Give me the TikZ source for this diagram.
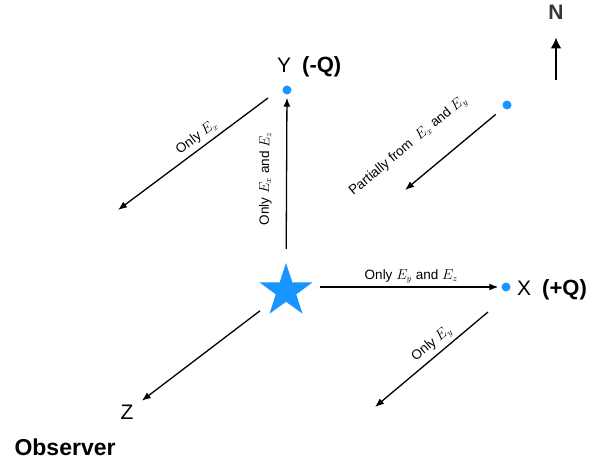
\documentclass[tikz,border=0pt]{standalone}
\usepackage{fontspec}
\setmainfont{Liberation Sans}
\usetikzlibrary{shapes.geometric,arrows.meta}
\definecolor{chargeblue}{RGB}{24,150,255}
\definecolor{northgray}{RGB}{55,55,55}

\begin{document}
\begin{tikzpicture}[x=1pt, y=-1pt,
  dot/.style={circle, fill=chargeblue, inner sep=0pt, minimum size=9pt},
  axis/.style={font=\fontsize{21}{25}\selectfont, inner sep=1pt},
  lbl/.style={font=\fontsize{13.5}{16}\selectfont, sloped, inner sep=2pt},
  arrow/.style={-{Latex[length=9pt,width=7pt]}, line width=1.3pt}
]
\useasboundingbox (0,0) rectangle (602,463);
\node[star, star points=5, star point ratio=2.6, fill=chargeblue, inner sep=0pt, minimum size=56pt] (source) at (286,291) {};
\node[dot] (ydot) at (287,90) {};
\node[dot] (xdot) at (506,287) {};
\node[dot] (pdot) at (507,105) {};
\node[axis, anchor=west] (ylab) at (276,67) {Y\hspace{11pt}\textbf{\fontsize{22}{26}\selectfont(-Q)}};
\node[axis, anchor=west] (xlab) at (516,290) {X\hspace{11pt}\textbf{\fontsize{22}{26}\selectfont(+Q)}};
\node[axis] (zlab) at (127,412) {Z};
\node[font=\fontsize{23}{27}\selectfont\bfseries, anchor=west] (observer) at (11,447) {Observer};
\node[font=\fontsize{21}{25}\selectfont\bfseries, text=northgray, inner sep=1pt] (north) at (556,12) {N};
\coordinate (nbase) at (556,80);
\coordinate (exa) at (268,98);
\coordinate (exb) at (118,210);
\coordinate (pend) at (405,190);
\coordinate (eya) at (488,312);
\coordinate (eyb) at (375,407);
\draw[arrow, shorten <=14pt, shorten >=3pt] (source) -- node[lbl, above=12pt] {Only $E_x$ and $E_z$} (ydot);
\draw[arrow, shorten <=19pt, shorten >=3pt] (source.east |- xdot) -- node[lbl, above=1pt, pos=0.55] {Only $E_y$ and $E_z$} (xdot);
\draw[arrow, shorten <=17pt, shorten >=9pt] (source) -- (zlab);
\draw[arrow] (exa) -- node[lbl, above=2pt, pos=0.43] {Only $E_x$} (exb);
\draw[arrow, shorten <=10pt] (pdot) -- node[lbl, above=22pt, pos=0.76] {Partially from\ \ $E_x$ and $E_y$} (pend);
\draw[arrow] (eya) -- node[lbl, above=2pt, pos=0.43] {Only $E_y$} (eyb);
\draw[-{Latex[length=11pt,width=11pt]}, line width=2.6pt, shorten >=17pt] (nbase) -- (north);
\end{tikzpicture}
\end{document}
